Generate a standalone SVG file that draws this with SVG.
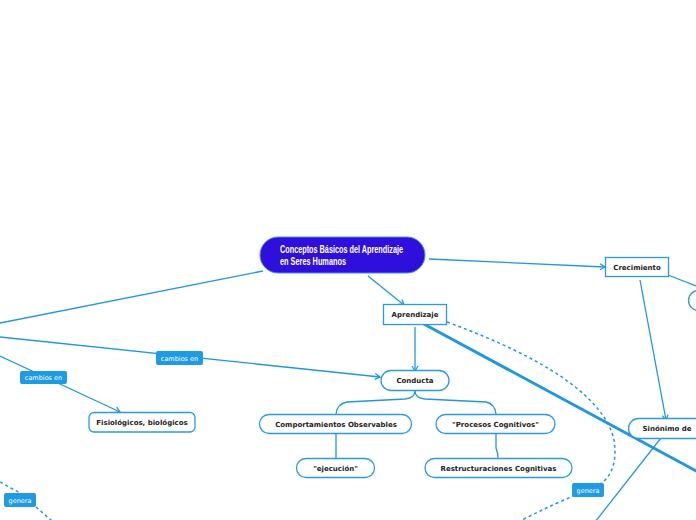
<svg xmlns="http://www.w3.org/2000/svg" width="696" height="520" viewBox="0 0 696 520">
<style>
.c{fill:none;stroke:#1f98e0;stroke-width:1.3}
.d{fill:none;stroke:#1f98e0;stroke-width:1.5;stroke-dasharray:3 3}
.n{fill:#fff;stroke:#2a9be3;stroke-width:1.3}
.t{font-family:"DejaVu Sans",Verdana,sans-serif;font-weight:bold;font-size:7px;fill:#222;text-anchor:middle}
.l{fill:#1e9be3}
.lt{font-family:"DejaVu Sans",Verdana,sans-serif;font-size:6.5px;fill:#fff;text-anchor:middle}
</style>
<defs>
<marker id="a" markerWidth="8" markerHeight="8" refX="6" refY="4" orient="auto" markerUnits="userSpaceOnUse">
<path d="M1,1 L6,4 L1,7" fill="none" stroke="#1f98e0" stroke-width="1.3"/>
</marker>
</defs>
<rect width="696" height="520" fill="#fff"/>
<g id="connectors">
<line class="c" x1="263" y1="271" x2="0" y2="323"/>
<line class="c" x1="368" y1="276" x2="404" y2="305" marker-end="url(#a)"/>
<line class="c" x1="429" y1="259" x2="605" y2="267" marker-end="url(#a)"/>
<line class="c" x1="415" y1="327" x2="415" y2="371" marker-end="url(#a)"/>
<line x1="422" y1="323" x2="700" y2="473" stroke="#1f98e0" stroke-width="3"/>
<path class="d" d="M447,322 Q600,378 614,440 Q620,480 588,490 Q555,503 518,522"/>
<path class="d" d="M0,482 L20,493 M36,507 L52,521"/>
<line class="c" x1="668" y1="275" x2="696" y2="286"/>
<line class="c" x1="640" y1="280" x2="666" y2="420" marker-end="url(#a)"/>
<line class="c" x1="661" y1="438" x2="595" y2="522"/>
<line class="c" x1="0" y1="337" x2="380" y2="377" marker-end="url(#a)"/>
<line class="c" x1="0" y1="356" x2="120" y2="412" marker-end="url(#a)"/>
<path class="c" d="M415,391 Q415,398 405,399 L347,402 Q337,404 336,414"/>
<path class="c" d="M415,391 Q415,398 425,399 L486,402 Q495,404 496,414"/>
<line class="c" x1="336" y1="433" x2="336" y2="458"/>
<path class="c" d="M496,433 L496,448 Q498,453 498,458"/>
</g>
<g id="label-cambios1"><rect class="l" x="156" y="351" width="47" height="14" rx="2"/><text class="lt" x="179.5" y="360.5">cambios en</text></g>
<g id="label-cambios2"><rect class="l" x="20" y="371" width="47" height="13" rx="2"/><text class="lt" x="43.5" y="380">cambios en</text></g>
<g id="label-genera1"><rect class="l" x="572" y="483" width="32" height="14" rx="2"/><text class="lt" x="588" y="492.5">genera</text></g>
<g id="label-genera2"><rect class="l" x="4" y="493" width="32" height="14" rx="2"/><text class="lt" x="20" y="502.5">genera</text></g>
<g id="central">
<rect x="260" y="237" width="165" height="36" rx="18" fill="#2f0fdc" stroke="#4a8ef0" stroke-width="1"/>
<text x="280" y="253" font-family="'Liberation Sans',Arial,sans-serif" font-weight="bold" font-size="10.5" fill="#fff" textLength="123" lengthAdjust="spacingAndGlyphs">Conceptos Básicos del Aprendizaje</text>
<text x="280" y="265" font-family="'Liberation Sans',Arial,sans-serif" font-weight="bold" font-size="10.5" fill="#fff" textLength="66" lengthAdjust="spacingAndGlyphs">en Seres Humanos</text>
</g>
<g id="aprendizaje"><rect class="n" x="383.5" y="304.5" width="63" height="20"/><text class="t" x="415" y="317">Aprendizaje</text></g>
<g id="crecimiento"><rect class="n" x="605.5" y="257.5" width="63" height="19"/><text class="t" x="637" y="269.5">Crecimiento</text></g>
<g id="right-node"><rect class="n" x="688.5" y="290.5" width="40" height="20" rx="10"/></g>
<g id="sinonimo"><rect class="n" x="628.5" y="418.5" width="90" height="20" rx="10"/><text class="t" x="667" y="431">Sinónimo de</text></g>
<g id="conducta"><rect class="n" x="381" y="370.5" width="68" height="20" rx="10"/><text class="t" x="415" y="383">Conducta</text></g>
<g id="fisiologicos"><rect class="n" x="89" y="412.5" width="106" height="19.5" rx="5"/><text class="t" x="142" y="425">Fisiológicos, biológicos</text></g>
<g id="comportamientos"><rect class="n" x="259.5" y="414.5" width="152" height="19" rx="9.5"/><text class="t" x="336" y="426.5">Comportamientos Observables</text></g>
<g id="procesos"><rect class="n" x="436" y="414.5" width="119" height="19" rx="9.5"/><text class="t" x="495.5" y="426.5">"Procesos Cognitivos"</text></g>
<g id="ejecucion"><rect class="n" x="296.5" y="458.5" width="78" height="19" rx="9.5"/><text class="t" x="335.5" y="470.5">"ejecución"</text></g>
<g id="restructuraciones"><rect class="n" x="425" y="458.5" width="147" height="19" rx="9.5"/><text class="t" x="498.5" y="470.5">Restructuraciones Cognitivas</text></g>
</svg>
